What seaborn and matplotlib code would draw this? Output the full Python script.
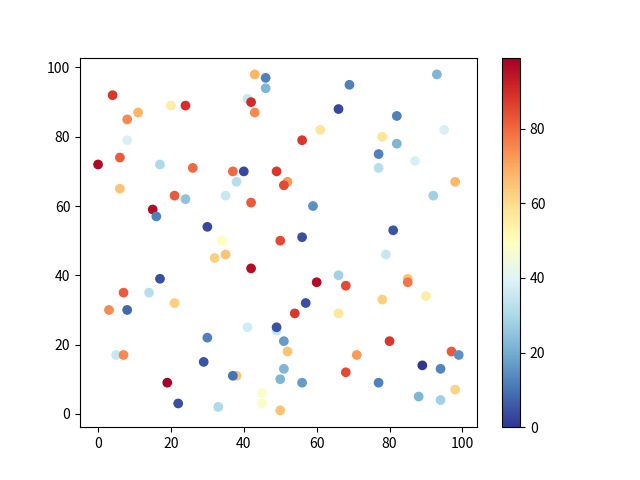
import numpy as np
import pandas as pd
import matplotlib
matplotlib.use("Agg")
import matplotlib.pyplot as plt
import seaborn as sns

plt.rcParams['font.family'] = ['Noto Sans CJK SC', 'DejaVu Sans']

x_vals = [0, 4, 8, 11, 6, 8, 6, 20, 24, 17, 26, 21, 24, 15, 16, 30, 43, 46, 46, 41,
          42, 43, 37, 40, 38, 35, 42, 49, 34,
          93, 69, 66, 82, 61, 95, 56, 78, 82, 77, 77, 87, 52, 51, 98, 92, 59, 81, 56, 50,
          32, 35, 42, 17, 7, 14, 21, 3, 8, 41, 49, 49, 30, 5, 7, 29, 38, 37, 19, 45,
          45, 22, 33, 50,
          79, 66, 60, 68, 85, 85, 90, 78, 57, 54, 66, 51, 52, 80, 71, 97, 99, 89, 94, 51,
          68, 50, 56, 77, 98, 88, 94]
y_vals = [72, 92, 85, 87, 74, 79, 65, 89, 89, 72, 71, 63, 62, 59, 57, 54, 98, 97, 94, 91,
          90, 87, 70, 70, 67, 63, 61, 70, 50,
          98, 95, 88, 86, 82, 82, 79, 80, 78, 75, 71, 73, 67, 66, 67, 63, 60, 53, 51, 50,
          45, 46, 42, 39, 35, 35, 32, 30, 30, 25, 24, 25, 22, 17, 17, 15, 11, 11, 9, 6,
          3, 3, 2, 1,
          46, 40, 38, 37, 39, 38, 34, 33, 32, 29, 29, 21, 18, 21, 17, 18, 17, 14, 13, 13,
          12, 10, 9, 9, 7, 5, 4]
c_vals = [97, 88, 75, 68, 82, 38, 65, 55, 89, 30, 80, 82, 25, 96, 12, 3, 68, 12, 22, 35,
          90, 75, 80, 3, 32, 35, 82, 88, 50,
          22, 12, 3, 12, 58, 38, 88, 58, 22, 12, 32, 38, 72, 85, 67, 28, 15, 5, 4, 85,
          63, 65, 96, 4, 82, 32, 63, 75, 8, 37, 35, 5, 12, 35, 75, 5, 65, 10, 99, 48,
          48, 4, 30, 65,
          35, 28, 96, 85, 65, 78, 55, 63, 4, 88, 57, 17, 65, 88, 72, 82, 15, 0, 13, 22,
          85, 22, 17, 12, 62, 22, 28]

df = pd.DataFrame({'x': x_vals, 'y': y_vals, 'c': c_vals})

fig, ax = plt.subplots(figsize=(6.4, 4.8), dpi=100)
norm = plt.Normalize(df['c'].min(), df['c'].max())
sns.scatterplot(data=df, x='x', y='y', hue='c', palette='RdYlBu_r', hue_norm=norm,
                legend=False, s=36, edgecolor='face', linewidth=1, alpha=1, ax=ax)
ax.set_xlabel('')
ax.set_ylabel('')

sm = plt.cm.ScalarMappable(cmap='RdYlBu_r', norm=norm)
fig.colorbar(sm, ax=ax)

plt.savefig('out.png')
